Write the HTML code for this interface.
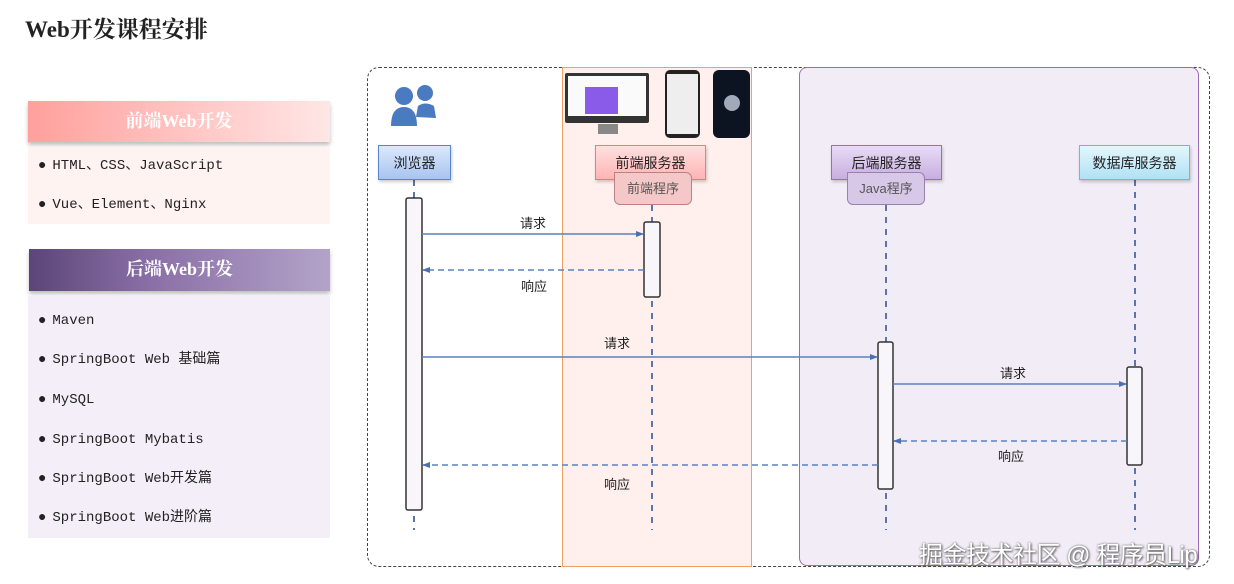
<!DOCTYPE html>
<html><head><meta charset="utf-8"><style>
body{margin:0;width:1234px;height:584px;background:#fff;position:relative;overflow:hidden;font-family:"Liberation Sans","Noto Sans CJK SC",sans-serif}
.a{position:absolute}
.serif{font-family:"Liberation Serif","Noto Serif CJK SC",serif}
.mono{font-family:"Liberation Mono","Noto Sans CJK SC",monospace}
.hd{color:#fff;font-weight:bold;font-size:18px;text-align:center;line-height:41px;box-shadow:0 3px 4px rgba(0,0,0,.25)}
.li{font-size:14px;color:#222;left:38px;line-height:18px;height:18px;white-space:nowrap}
.li:before{content:"●";margin-right:6px}
.box{text-align:center;font-size:14px;line-height:35px;color:#222;box-sizing:border-box;box-shadow:1px 2px 3px rgba(0,0,0,.2)}
.tab{text-align:center;font-size:13px;line-height:31px;color:#555;box-sizing:border-box;border-radius:0 6px 6px 6px}
.lbl{font-size:13px;color:#222}
</style></head><body>
<div class="a serif" style="left:25px;top:11px;font-size:23px;font-weight:bold;color:#222">Web开发课程安排</div>

<div class="a hd serif" style="left:28px;top:101px;width:302px;height:41px;background:linear-gradient(90deg,#ffa09c,#ffe6e6)">前端Web开发</div>
<div class="a" style="left:28px;top:147px;width:302px;height:77px;background:#fff3f2"></div>
<div class="a li mono" style="top:157px">HTML、CSS、JavaScript</div>
<div class="a li mono" style="top:196px">Vue、Element、Nginx</div>

<div class="a hd serif" style="left:29px;top:249px;width:301px;height:42px;background:linear-gradient(90deg,#5b4678,#8a6fa6 40%,#b3a3c9)">后端Web开发</div>
<div class="a" style="left:28px;top:296px;width:302px;height:242px;background:#f3eef8"></div>
<div class="a li mono" style="top:312px">Maven</div>
<div class="a li mono" style="top:351px">SpringBoot Web 基础篇</div>
<div class="a li mono" style="top:391px">MySQL</div>
<div class="a li mono" style="top:431px">SpringBoot Mybatis</div>
<div class="a li mono" style="top:470px">SpringBoot Web开发篇</div>
<div class="a li mono" style="top:509px">SpringBoot Web进阶篇</div>

<div class="a" style="left:367px;top:67px;width:841px;height:498px;border:1.5px dashed #444;border-radius:12px"></div>
<div class="a" style="left:562px;top:67px;width:188px;height:498px;border:1.5px solid #f0a060;background:#fff0ee"></div>
<div class="a" style="left:799px;top:67px;width:398px;height:497px;border:1.5px solid #9a6cb8;background:#f2ecf7;border-radius:8px"></div>

<svg class="a" style="left:390px;top:84px" width="50" height="46">
<circle cx="14" cy="12" r="9" fill="#4a7ac0"/><path d="M1 42 Q1 23 14 23 Q27 23 27 42 Z" fill="#4a7ac0"/>
<circle cx="35" cy="9" r="8" fill="#4a7ac0"/><path d="M26 33 L28 22 Q35 17 44 22 L46 34 Z" fill="#4a7ac0"/>
</svg>
<div class="a" style="left:565px;top:73px;width:84px;height:50px;background:#333;border-radius:2px"></div>
<div class="a" style="left:568px;top:76px;width:78px;height:40px;background:#fafafa"></div>
<div class="a" style="left:585px;top:87px;width:33px;height:27px;background:#8a5ae8"></div>
<div class="a" style="left:598px;top:124px;width:20px;height:10px;background:#888"></div>
<div class="a" style="left:665px;top:70px;width:35px;height:68px;background:#222;border-radius:5px"></div>
<div class="a" style="left:667px;top:74px;width:31px;height:60px;background:#eee"></div>
<div class="a" style="left:713px;top:70px;width:37px;height:68px;background:#0c1422;border-radius:6px"></div>
<div class="a" style="left:724px;top:95px;width:16px;height:16px;background:#a0aab8;border-radius:50%"></div>

<svg class="a" style="left:0;top:0" width="1234" height="584">
<defs><marker id="ar" markerWidth="8" markerHeight="6" refX="7" refY="3" orient="auto" markerUnits="userSpaceOnUse"><path d="M0 0 L8 3 L0 6 Z" fill="#4a70b0"/></marker></defs>
<g stroke="#5a75a8" stroke-width="2" stroke-dasharray="6,6">
<line x1="414" y1="180" x2="414" y2="530"/><line x1="652" y1="205" x2="652" y2="530"/>
<line x1="886" y1="205" x2="886" y2="530"/><line x1="1135" y1="180" x2="1135" y2="530"/>
</g>
<g fill="#f8f6fa" stroke="#333" stroke-width="1.5">
<rect x="406" y="198" width="16" height="312" rx="2"/><rect x="644" y="222" width="16" height="75" rx="2"/>
<rect x="878" y="342" width="15" height="147" rx="2"/><rect x="1127" y="367" width="15" height="98" rx="2"/>
</g>
<g stroke="#5a80c0" stroke-width="1.5" fill="none" marker-end="url(#ar)">
<line x1="422" y1="234" x2="643" y2="234"/><line x1="422" y1="357" x2="877" y2="357"/><line x1="893" y1="384" x2="1126" y2="384"/>
</g>
<g stroke="#5a80c0" stroke-width="1.5" fill="none" stroke-dasharray="6,4" marker-end="url(#ar)">
<line x1="644" y1="270" x2="423" y2="270"/><line x1="1127" y1="441" x2="894" y2="441"/><line x1="878" y1="465" x2="423" y2="465"/>
</g>
</svg>

<div class="a box" style="left:378px;top:145px;width:73px;height:35px;border:1px solid #5a85c8;background:linear-gradient(#dce8fc,#a8c4f0)">浏览器</div>
<div class="a box" style="left:595px;top:145px;width:111px;height:35px;border:1px solid #e08080;background:linear-gradient(#ffe0e0,#ffb4b4)">前端服务器</div>
<div class="a tab" style="left:614px;top:172px;width:78px;height:33px;border:1px solid #c08080;background:#f4c8c8">前端程序</div>
<div class="a box" style="left:831px;top:145px;width:111px;height:35px;border:1px solid #9870b8;background:linear-gradient(#e8dcf4,#c8aee0)">后端服务器</div>
<div class="a tab" style="left:847px;top:172px;width:78px;height:33px;border:1px solid #9880b0;background:#d8c8e8">Java程序</div>
<div class="a box" style="left:1079px;top:145px;width:111px;height:35px;border:1px solid #70b8d8;background:linear-gradient(#e4f6fc,#b0e2f4)">数据库服务器</div>

<div class="a lbl" style="left:520px;top:213px">请求</div>
<div class="a lbl" style="left:521px;top:276px">响应</div>
<div class="a lbl" style="left:604px;top:333px">请求</div>
<div class="a lbl" style="left:1000px;top:363px">请求</div>
<div class="a lbl" style="left:998px;top:446px">响应</div>
<div class="a lbl" style="left:604px;top:474px">响应</div>

<div class="a" style="left:919px;top:535px;font-size:24px;letter-spacing:-0.5px;color:#fff;text-shadow:0 0 2px #666,1px 1px 2px #555">掘金技术社区 @ 程序员Lip</div>
</body></html>
